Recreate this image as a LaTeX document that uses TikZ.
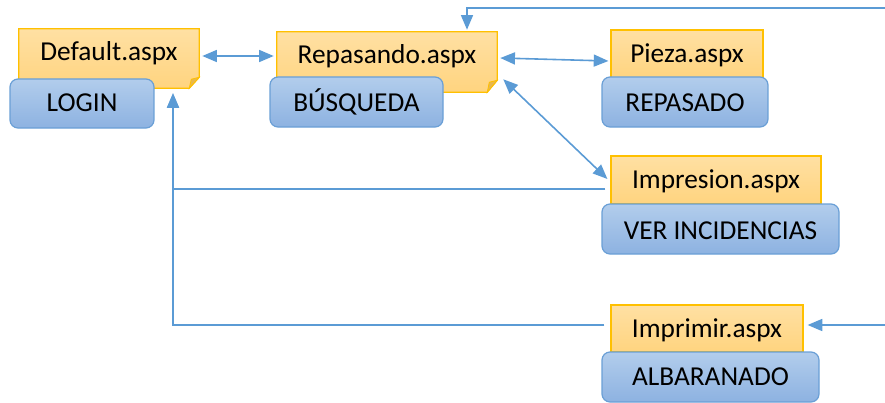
\documentclass[tikz,border=0pt]{standalone}
\usepackage{fontspec}
\setmainfont{Carlito}
\usetikzlibrary{arrows.meta,calc}
\definecolor{ylwA}{HTML}{FFE0A3}
\definecolor{ylwB}{HTML}{FFD47F}
\definecolor{ylwLine}{HTML}{FFC000}
\definecolor{ylwFold}{HTML}{E8B84E}
\definecolor{bluA}{HTML}{B2CDEC}
\definecolor{bluB}{HTML}{8DB2E1}
\definecolor{bluLine}{HTML}{6A9FD6}
\definecolor{arrC}{HTML}{5B9BD5}
\begin{document}
\begin{tikzpicture}[x=0.75pt,y=-0.75pt,
  ybox/.style={rectangle,inner sep=0pt,minimum width=#1},
  yplain/.style={draw=ylwLine,line width=0.9pt,top color=ylwA,bottom color=ylwB},
  bbox/.style={rectangle,rounded corners=6pt,inner sep=0pt,draw=bluLine,line width=0.9pt,top color=bluA,bottom color=bluB,minimum width=#1},
  txt/.style={anchor=base,inner sep=0pt,font=\fontsize{20.5}{24}\selectfont,text=black},
  conn/.style={draw=arrC,line width=1.2pt},
  tip/.style={-{Triangle[length=11pt,width=9pt]}},
  tips/.style={{Triangle[length=11pt,width=9pt]}-{Triangle[length=11pt,width=9pt]}}
]
\useasboundingbox (0,0) rectangle (885,403);
% yellow page boxes
\node[ybox=135pt,minimum height=44.25pt] (def) at (109,58.5) {};
\node[ybox=165pt,minimum height=45pt] (rep) at (387,62) {};
\node[ybox=114pt,minimum height=36pt,yplain] (pie) at (687,54) {};
\node[ybox=157.5pt,minimum height=36pt,yplain] (imn) at (716,180) {};
\node[ybox=144pt,minimum height=35.25pt,yplain] (imr) at (707,328.5) {};
% folded outlines
\path[draw=ylwLine,line width=0.9pt,top color=ylwA,bottom color=ylwB]
  (def.north west) -- (def.north east) -- ($(def.south east)+(0,-11)$)
  -- ($(def.south east)+(-10,0)$) -- (def.south west) -- cycle;
\path[fill=ylwFold,draw=ylwLine,line width=0.6pt]
  ($(def.south east)+(0,-11)$) -- ($(def.south east)+(-8,-9)$) -- ($(def.south east)+(-10,0)$) -- cycle;
\path[draw=ylwLine,line width=0.9pt,top color=ylwA,bottom color=ylwB]
  (rep.north west) -- (rep.north east) -- ($(rep.south east)+(0,-12)$)
  -- ($(rep.south east)+(-10,0)$) -- (rep.south west) -- cycle;
\path[fill=ylwFold,draw=ylwLine,line width=0.6pt]
  ($(rep.south east)+(0,-12)$) -- ($(rep.south east)+(-8,-10)$) -- ($(rep.south east)+(-10,0)$) -- cycle;
% blue boxes
\node[bbox=108pt,minimum height=36.75pt] (login) at (82,103.5) {};
\node[bbox=129.75pt,minimum height=37.5pt] (bus) at (356.5,102) {};
\node[bbox=124.5pt,minimum height=37.5pt] (repa) at (685,102) {};
\node[bbox=177.75pt,minimum height=37.5pt] (ver) at (720.5,229) {};
\node[bbox=162.75pt,minimum height=37.5pt] (alb) at (710.5,377) {};
% texts
\node[txt] (deft) at (109,61) {Default.aspx};
\node[txt] (rept) at (387,64) {Repasando.aspx};
\node[txt] (piet) at (687,63) {Pieza.aspx};
\node[txt] (imnt) at (716,188) {Impresion.aspx};
\node[txt] (imrt) at (707,337) {Imprimir.aspx};
\node[txt] (logint) at (82,112) {LOGIN};
\node[txt] (bust) at (356.5,112) {BÚSQUEDA};
\node[txt] (repat) at (685,112) {REPASADO};
\node[txt] (vert) at (720.5,239) {VER INCIDENCIAS};
\node[txt] (albt) at (710.5,385) {ALBARANADO};
% free ends
\coordinate (tr) at (885,8);
\coordinate (br) at (885,325);
% connectors
\draw[conn,tips] ($(def.east)+(3,-2.5)$) -- ($(rep.west)+(-3,-6)$);
\draw[conn,tips] ($(rep.east)+(3,-4)$) -- ($(pie.west)+(-2,7)$);
\draw[conn,tips] ($(rep.south east)+(6,-13)$) -- ($(imn.west)+(-3,-1)$);
\draw[conn,tip] (tr) -| ($(rep.north)+(80,-2)$);
\draw[conn,tip] ($(imn.west)+(-5,9)$) -| ($(def.south)+(64,5)$);
\draw[conn,tip] ($(imr.west)+(-6,-3.5)$) -| ($(def.south)+(64,5)$);
\draw[conn,tip] (br) -- ($(imr.east)+(4,-3.5)$);
\end{tikzpicture}
\end{document}
